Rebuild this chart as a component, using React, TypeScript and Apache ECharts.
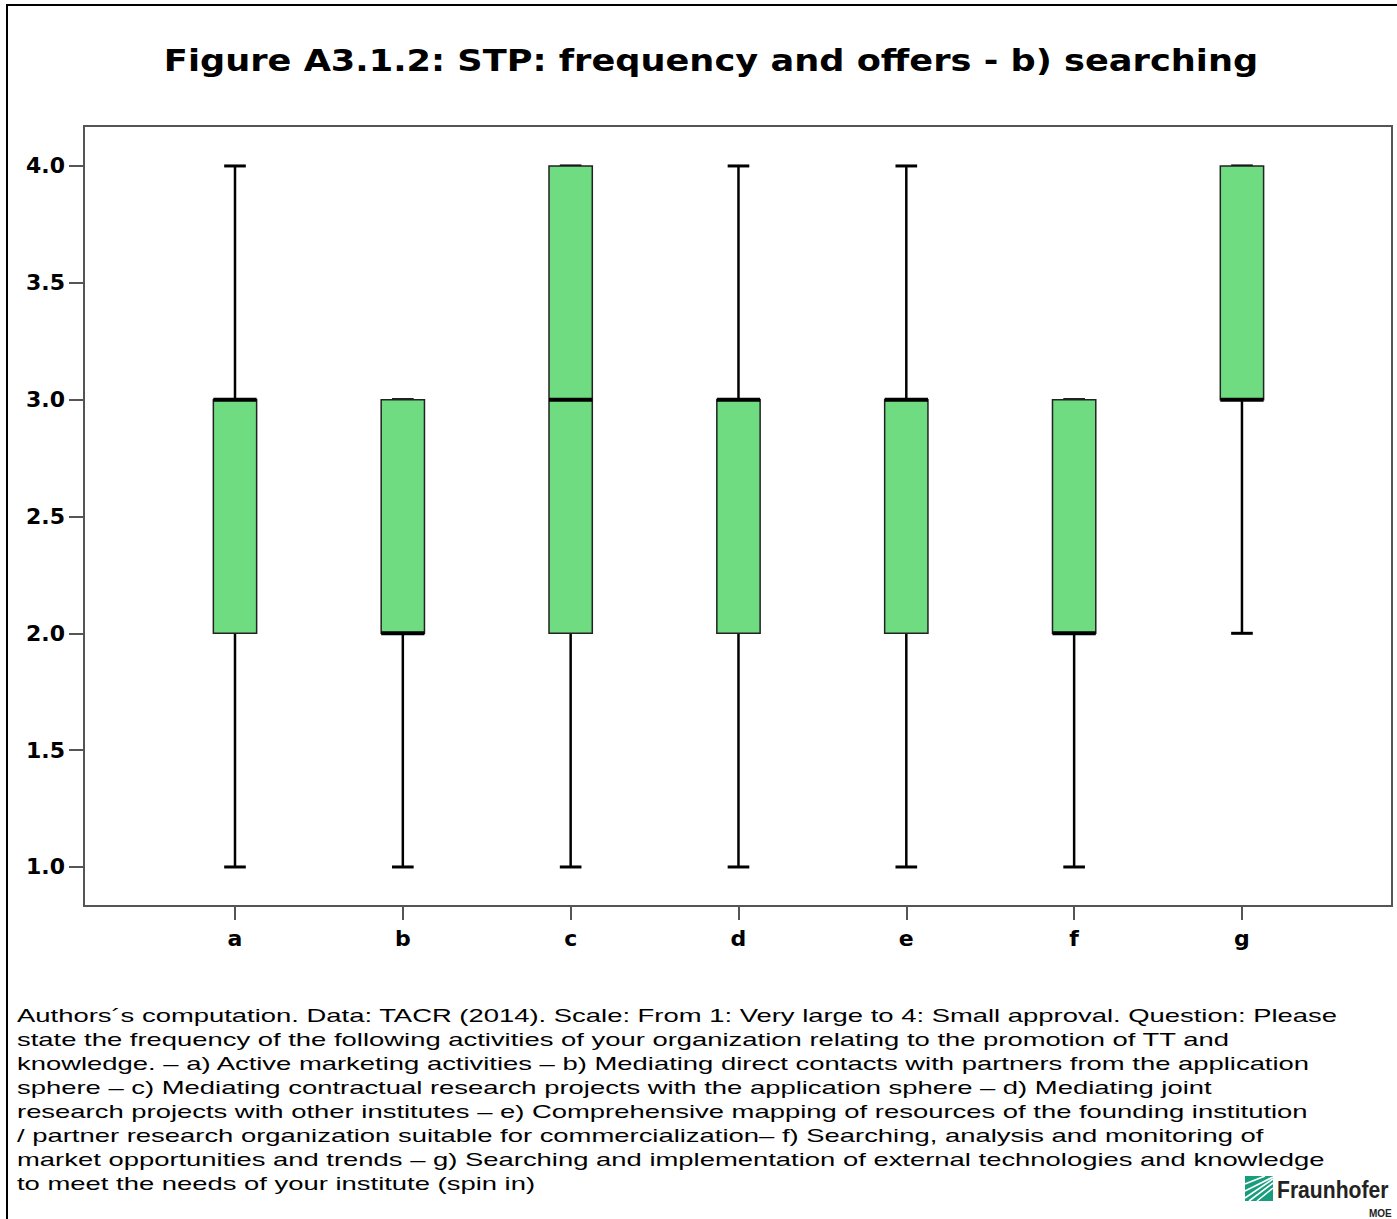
import React, { useEffect, useRef } from "react";
import * as echarts from "echarts";

const TITLE = "Figure A3.1.2: STP: frequency and offers - b) searching";
const categories = ["a", "b", "c", "d", "e", "f", "g"];
const whiskerLow = [1, 1, 1, 1, 1, 1, 2];
const quartile1 = [2, 2, 2, 2, 2, 2, 3];
const medians = [3, 2, 3, 3, 3, 2, 3];
const quartile3 = [3, 3, 4, 3, 3, 3, 4];
const whiskerHigh = [4, 3, 4, 4, 4, 3, 4];
const yTickValues = [1, 1.5, 2, 2.5, 3, 3.5, 4];
const xTickValues = [1, 2, 3, 4, 5, 6, 7];

const captionLines = [
  "Authors\u00B4s computation. Data: TACR (2014). Scale: From 1: Very large to 4: Small approval. Question: Please",
  "state the frequency of the following activities of your organization relating to the promotion of TT and",
  "knowledge. \u2013 a) Active marketing activities \u2013 b) Mediating direct contacts with partners from the application",
  "sphere \u2013 c) Mediating contractual research projects with the application sphere \u2013 d) Mediating joint",
  "research projects with other institutes \u2013 e) Comprehensive mapping of resources of the founding institution",
  "/ partner research organization suitable for commercialization\u2013 f) Searching, analysis and monitoring of",
  "market opportunities and trends \u2013 g) Searching and implementation of external technologies and knowledge",
  "to meet the needs of your institute (spin in)",
];

const BOX_FILL = "#6FDC82";
const BOX_WIDTH = 0.258;

export default function App() {
  const ref = useRef<HTMLDivElement>(null);

  useEffect(() => {
    document.body.style.margin = "0";
    if (!ref.current) return;
    const chart = echarts.init(ref.current, null, { renderer: "svg" });

    const data = categories.map((_, i) => [
      i + 1,
      whiskerLow[i],
      quartile1[i],
      medians[i],
      quartile3[i],
      whiskerHigh[i],
    ]);

    const renderItem = (params: any, api: any) => {
      const x = api.value(0);
      const lo = api.value(1);
      const q1 = api.value(2);
      const med = api.value(3);
      const q3 = api.value(4);
      const hi = api.value(5);
      const pLo = api.coord([x, lo]);
      const pQ1 = api.coord([x, q1]);
      const pMed = api.coord([x, med]);
      const pQ3 = api.coord([x, q3]);
      const pHi = api.coord([x, hi]);
      const bw = api.size([BOX_WIDTH, 0])[0];
      const half = bw / 2;
      const cap = bw / 4;
      const cx = pLo[0];
      const children: any[] = [];
      const lineStyle = { stroke: "#000", lineWidth: 2.5 };
      if (pLo[1] > pQ1[1]) {
        children.push({ type: "line", shape: { x1: cx, y1: pLo[1], x2: cx, y2: pQ1[1] }, style: lineStyle });
      }
      if (pHi[1] < pQ3[1]) {
        children.push({ type: "line", shape: { x1: cx, y1: pQ3[1], x2: cx, y2: pHi[1] }, style: lineStyle });
      }
      children.push({ type: "line", shape: { x1: cx - cap, y1: pLo[1], x2: cx + cap, y2: pLo[1] }, style: { stroke: "#000", lineWidth: 3 } });
      children.push({ type: "line", shape: { x1: cx - cap, y1: pHi[1], x2: cx + cap, y2: pHi[1] }, style: { stroke: "#000", lineWidth: 3 } });
      children.push({
        type: "rect",
        shape: { x: cx - half, y: pQ3[1], width: bw, height: pQ1[1] - pQ3[1] },
        style: { fill: BOX_FILL, stroke: "#222", lineWidth: 1.5 },
      });
      children.push({
        type: "line",
        shape: { x1: cx - half, y1: pMed[1], x2: cx + half, y2: pMed[1] },
        style: { stroke: "#000", lineWidth: 4 },
      });
      return { type: "group", children };
    };

    const option: any = {
      animation: false,
      backgroundColor: "#fff",
      grid: {
        left: 84,
        right: 5,
        top: 126,
        bottom: 313,
        show: true,
        borderColor: "#555",
        borderWidth: 2,
        backgroundColor: "#fff",
      },
      xAxis: {
        type: "value",
        min: 0.1003,
        max: 7.894,
        splitLine: { show: false },
        axisLine: { show: true, lineStyle: { color: "#555", width: 2 } },
        axisTick: {
          show: true,
          length: 14,
          customValues: xTickValues,
          lineStyle: { color: "#555", width: 2 },
        },
        axisLabel: {
          show: true,
          customValues: xTickValues,
          margin: 21,
          formatter: (v: number) => categories[Math.round(v) - 1] ?? "",
          fontFamily: "DejaVu Sans",
          fontWeight: "bold",
          fontSize: 22,
          color: "#000",
        },
      },
      yAxis: {
        type: "value",
        min: 0.833,
        max: 4.171,
        splitLine: { show: false },
        axisLine: { show: true, lineStyle: { color: "#555", width: 2 } },
        axisTick: {
          show: true,
          length: 15,
          customValues: yTickValues,
          lineStyle: { color: "#555", width: 2 },
        },
        axisLabel: {
          show: true,
          customValues: yTickValues,
          margin: 19,
          formatter: (v: number) => v.toFixed(1),
          fontFamily: "DejaVu Sans",
          fontWeight: "bold",
          fontSize: 22,
          color: "#000",
        },
      },
      series: [
        {
          type: "custom",
          renderItem,
          data,
          encode: { x: 0, y: [1, 2, 3, 4, 5] },
          clip: false,
        },
      ],
      graphic: [
        {
          type: "rect",
          shape: { x: 7, y: 5, width: 1420, height: 1300 },
          style: { fill: "none", stroke: "#000", lineWidth: 2 },
          silent: true,
          z: 10,
        },
        {
          type: "text",
          x: 711,
          y: 46,
          scaleX: 1.173,
          style: {
            text: TITLE,
            fontFamily: "DejaVu Sans",
            fontWeight: "bold",
            fontSize: 30,
            fill: "#000",
            textAlign: "center",
            textVerticalAlign: "top",
          },
        },
        {
          type: "text",
          x: 17,
          y: 1004,
          scaleX: 1.444,
          style: {
            text: captionLines.join("\n"),
            fontFamily: "Liberation Sans",
            fontSize: 19,
            lineHeight: 23.9,
            fill: "#000",
            textVerticalAlign: "top",
          },
        },
        {
          type: "group",
          x: 1245,
          y: 1176,
          children: [
            { type: "rect", shape: { x: 0, y: 0, width: 28, height: 25 }, style: { fill: "#179C7D" } },
            { type: "line", shape: { x1: 0, y1: 22, x2: 28, y2: 3 }, style: { stroke: "#fff", lineWidth: 1.6 } },
            { type: "line", shape: { x1: 0, y1: 15, x2: 28, y2: 1 }, style: { stroke: "#fff", lineWidth: 1.6 } },
            { type: "line", shape: { x1: 4, y1: 25, x2: 28, y2: 7 }, style: { stroke: "#fff", lineWidth: 1.6 } },
            { type: "line", shape: { x1: 12, y1: 25, x2: 28, y2: 12 }, style: { stroke: "#fff", lineWidth: 1.6 } },
            { type: "line", shape: { x1: 0, y1: 8, x2: 20, y2: 0 }, style: { stroke: "#fff", lineWidth: 1.6 } },
          ],
        },
        {
          type: "text",
          x: 1277,
          y: 1178,
          scaleX: 0.88,
          style: {
            text: "Fraunhofer",
            fontFamily: "Liberation Sans",
            fontWeight: "bold",
            fontSize: 24,
            fill: "#222",
            textVerticalAlign: "top",
          },
        },
        {
          type: "text",
          x: 1369,
          y: 1208,
          style: {
            text: "MOE",
            fontFamily: "Liberation Sans",
            fontWeight: "bold",
            fontSize: 10,
            fill: "#222",
            textVerticalAlign: "top",
          },
        },
      ],
    };

    chart.setOption(option);
    return () => chart.dispose();
  }, []);

  return <div ref={ref} style={{ width: 1397, height: 1219 }} />;
}
